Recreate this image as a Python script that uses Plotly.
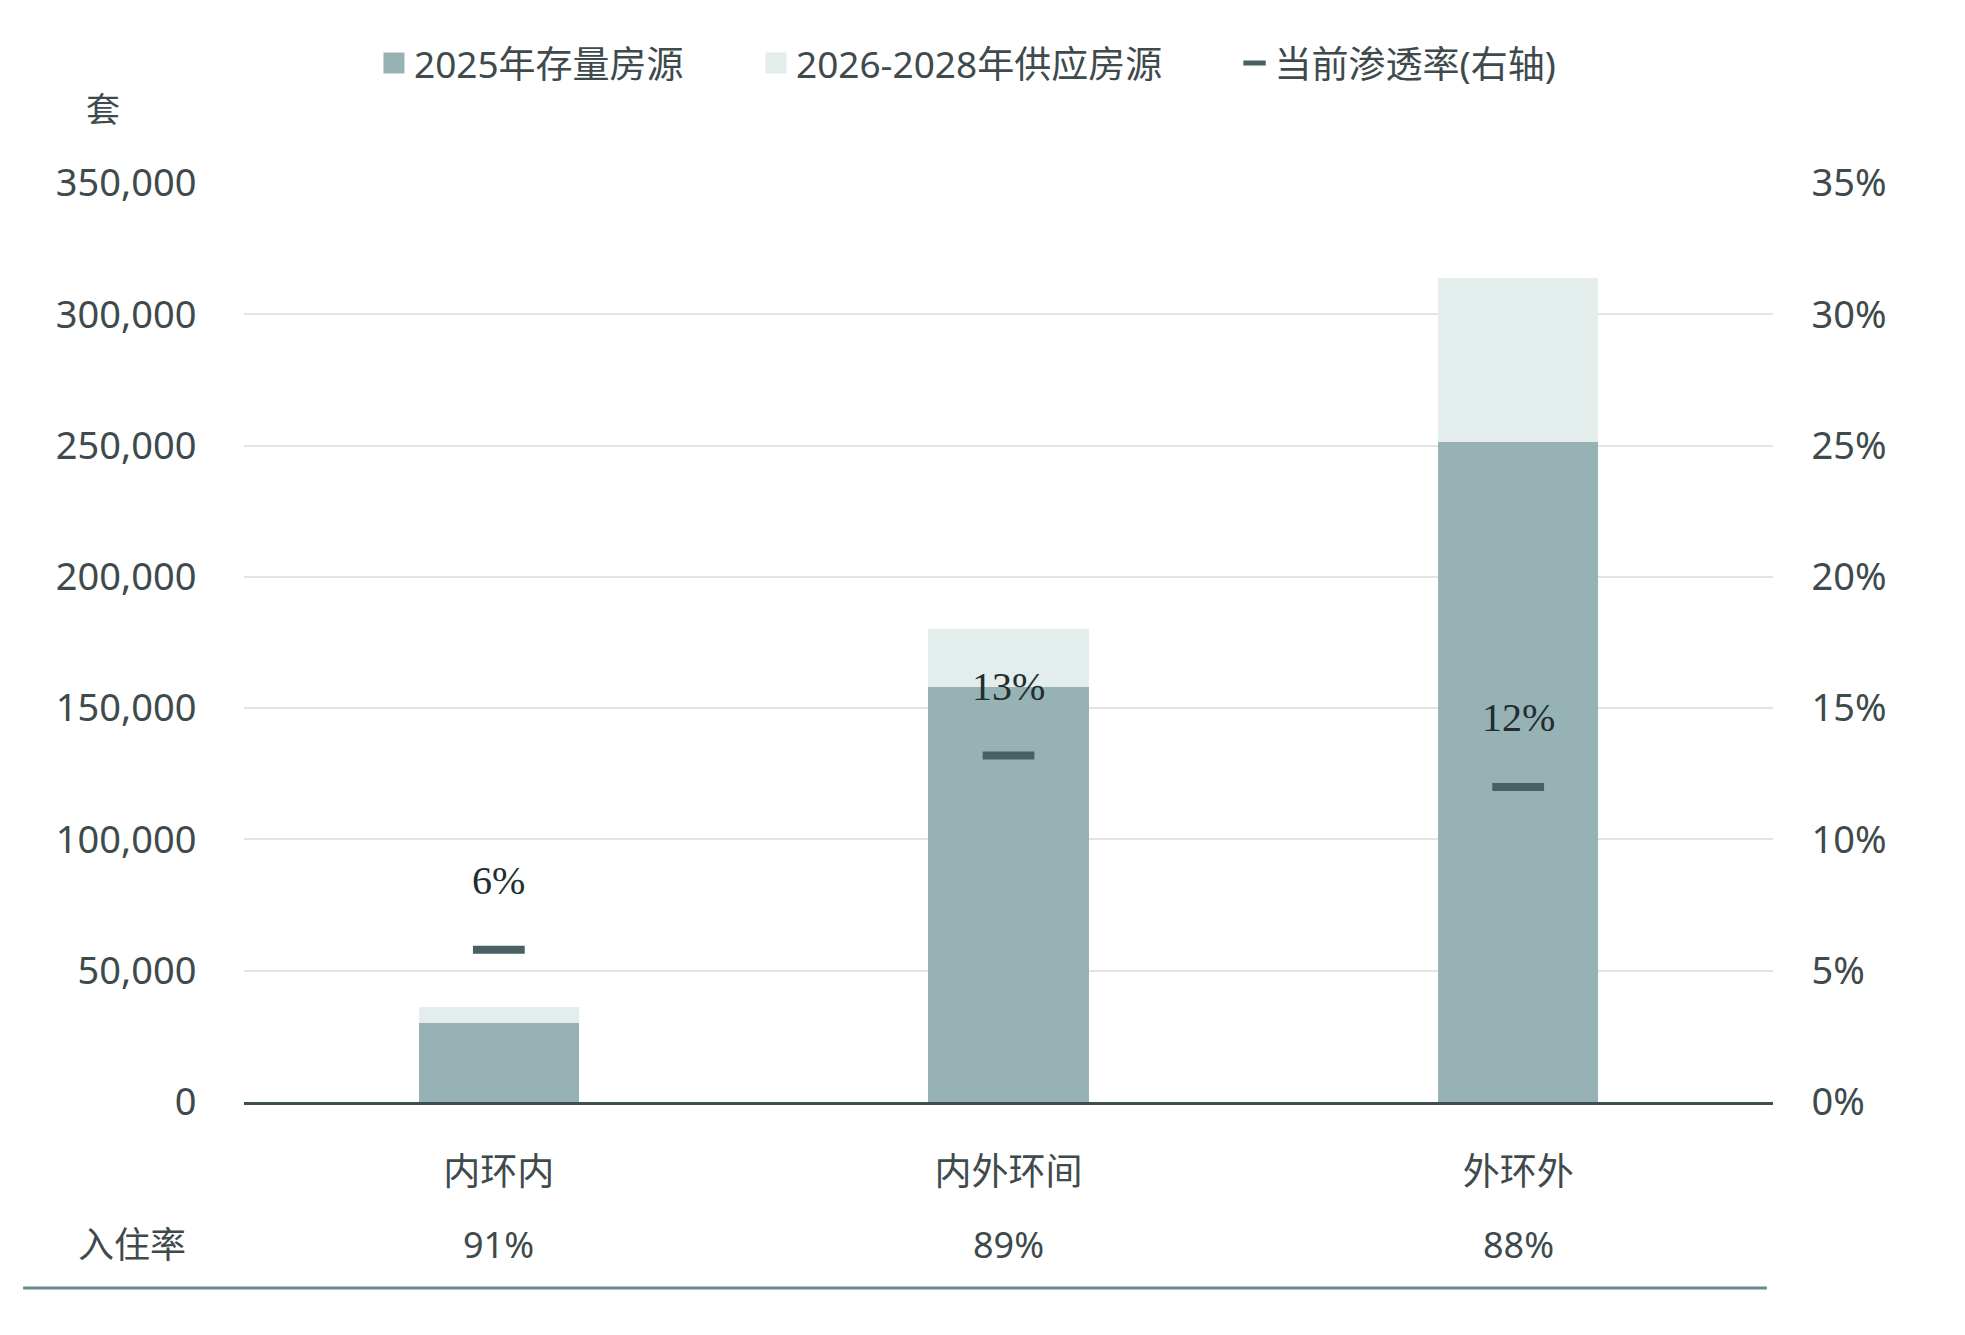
import plotly.graph_objects as go

categories = ["内环内", "内外环间", "外环外"]
stock_2025 = [30000, 158000, 251500]
supply_2026_2028 = [6000, 22000, 62500]
penetration = [0.058, 0.132, 0.12]
penetration_labels = ["6%", "13%", "12%"]
occupancy = ["91%", "89%", "88%"]

y_ticks = [0, 50000, 100000, 150000, 200000, 250000, 300000, 350000]
y2_ticks = [0, 0.05, 0.10, 0.15, 0.20, 0.25, 0.30, 0.35]

FONT = "Noto Sans, Noto Sans CJK SC, sans-serif"
TXT = "#3e4a4c"
DARK = "#97b2b4"
LIGHT = "#e3eeec"
MARK = "#4a6163"
PAD = "\u00a0" * 7

fig = go.Figure()
fig.add_trace(go.Bar(x=categories, y=stock_2025, name="2025年存量房源", showlegend=False,
                     marker=dict(color=DARK, line=dict(width=0)), yaxis="y"))
fig.add_trace(go.Bar(x=categories, y=supply_2026_2028, name="2026-2028年供应房源", showlegend=False,
                     marker=dict(color=LIGHT, line=dict(width=0)), yaxis="y"))
fig.add_trace(go.Scatter(x=categories, y=penetration, name="当前渗透率(右轴)", mode="markers",
                         showlegend=False,
                         marker=dict(symbol="line-ew", size=37, line=dict(width=8, color=MARK), color=MARK),
                         yaxis="y2"))

# legend entries (no data)
fig.add_trace(go.Scatter(x=[None], y=[None], mode="markers", name="2025年存量房源" + PAD,
                         marker=dict(symbol="square", size=16, color=DARK, line=dict(width=5, color=DARK))))
fig.add_trace(go.Scatter(x=[None], y=[None], mode="markers", name="2026-2028年供应房源" + PAD,
                         marker=dict(symbol="square", size=16, color=LIGHT, line=dict(width=5, color=LIGHT))))
fig.add_trace(go.Scatter(x=[None], y=[None], mode="markers", name="当前渗透率(右轴)",
                         marker=dict(symbol="line-ew", size=16, color=MARK, line=dict(width=5, color=MARK))))

for c, p, t in zip(categories, penetration, penetration_labels):
    fig.add_annotation(x=c, y=p, xref="x", yref="y2", text=t,
                       showarrow=False, yshift=69,
                       font=dict(family="Liberation Serif, Noto Sans CJK SC", size=40, color="#222d2f"))

fig.add_annotation(x=-0.073, y=-0.1556, xref="paper", yref="paper", text="入住率",
                   showarrow=False, xanchor="center", yanchor="middle",
                   font=dict(family=FONT, size=36, color=TXT))
for c, o in zip(categories, occupancy):
    fig.add_annotation(x=c, y=-0.1556, xref="x", yref="paper", text=o,
                       showarrow=False, xanchor="center", yanchor="middle",
                       font=dict(family=FONT, size=36, color=TXT))

fig.add_annotation(x=-0.092, y=1.0805, xref="paper", yref="paper", text="套",
                   showarrow=False, xanchor="center", yanchor="middle",
                   font=dict(family=FONT, size=34, color=TXT))

fig.add_shape(type="line", xref="paper", yref="paper", x0=-0.1445, x1=0.996,
              y0=-0.2024, y1=-0.2024, line=dict(color="#6b8a8c", width=3))

fig.update_layout(
    width=1965, height=1335,
    margin=dict(l=244, r=192, t=183, b=233, autoexpand=False),
    paper_bgcolor="white", plot_bgcolor="white",
    barmode="stack", bargap=0.686,
    font=dict(family=FONT, size=36, color=TXT),
    showlegend=True,
    legend=dict(orientation="h", x=0.085, xanchor="left", y=1.13, yanchor="middle",
                font=dict(family=FONT, size=37, color=TXT), traceorder="normal",
                itemwidth=30, bgcolor="rgba(0,0,0,0)"),
    xaxis=dict(showgrid=False, showline=True, linecolor="#3f4f51", linewidth=3,
               ticks="outside", ticklen=36, tickcolor="rgba(0,0,0,0)",
               tickfont=dict(family=FONT, size=37, color=TXT)),
    yaxis=dict(range=[0, 350000], tickvals=y_ticks, tickformat=",", showgrid=True,
               gridcolor="#e3e3e3", gridwidth=2, zeroline=False, showline=False,
               ticks="outside", ticklen=39, tickcolor="rgba(0,0,0,0)",
               tickfont=dict(family=FONT, size=38, color=TXT)),
    yaxis2=dict(range=[0, 0.35], tickvals=y2_ticks, tickformat=".0%", overlaying="y",
                side="right", showgrid=False, zeroline=False, showline=False,
                ticks="outside", ticklen=30, tickcolor="rgba(0,0,0,0)",
                tickfont=dict(family=FONT, size=38, color=TXT)),
)

fig.write_html("out.html")
